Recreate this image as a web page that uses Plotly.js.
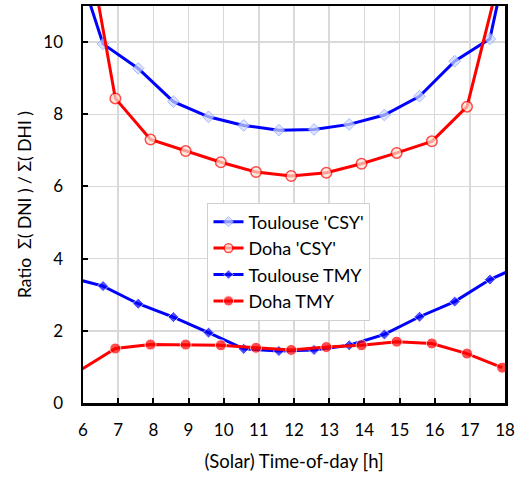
<!DOCTYPE html>
<html>
<head>
<meta charset="utf-8">
<script src="https://cdn.plot.ly/plotly-3.0.1.min.js"></script>
<style>html,body{margin:0;padding:0;background:#fff;}#chart{width:522px;height:477px;}</style>
</head>
<body>
<div id="chart"></div>
<script>
// Hours (solar time) of each series' points
var toulouseHours = [5.57, 6.57, 7.57, 8.57, 9.57, 10.57, 11.57, 12.57, 13.57, 14.57, 15.57, 16.57, 17.57, 18.57];
var dohaHours = [5.92, 6.92, 7.92, 8.92, 9.92, 10.92, 11.92, 12.92, 13.92, 14.92, 15.92, 16.92, 17.92];

// Ratio sum(DNI) / sum(DHI)
var toulouseCSY = [12.95, 9.95, 9.27, 8.35, 7.93, 7.69, 7.56, 7.58, 7.72, 7.98, 8.50, 9.47, 10.09, 14.6];
var dohaCSY = [13.9, 8.44, 7.30, 6.98, 6.67, 6.40, 6.29, 6.38, 6.63, 6.93, 7.25, 8.21, 12.1];
var toulouseTMY = [3.49, 3.24, 2.75, 2.38, 1.95, 1.50, 1.44, 1.47, 1.60, 1.90, 2.39, 2.81, 3.42, 3.86];
var dohaTMY = [0.91, 1.51, 1.62, 1.62, 1.60, 1.53, 1.47, 1.55, 1.60, 1.70, 1.65, 1.37, 0.98];

var seriesNames = ["Toulouse 'CSY'", "Doha 'CSY'", "Toulouse TMY", "Doha TMY"];
var xTicks = [6, 7, 8, 9, 10, 11, 12, 13, 14, 15, 16, 17, 18];
var yTicks = [0, 2, 4, 6, 8, 10];

var xRange = [6, 18], yRange = [0, 11];
function sizes(xs, ys, s) {
  return xs.map(function (x, i) {
    var y = ys[i];
    return (x < xRange[0] || x > xRange[1] || y < yRange[0] || y > yRange[1]) ? 0 : s;
  });
}

var FONT = 'Lato, "Open Sans", sans-serif';
var NB = '\u00a0';

var traces = [
  {x: toulouseHours, y: toulouseCSY, name: seriesNames[0], mode: 'lines+markers', cliponaxis: false,
   line: {color: '#0000ff', width: 3},
   marker: {symbol: 'diamond', size: sizes(toulouseHours, toulouseCSY, 9), color: '#cdd9fb', line: {color: '#7f9cff', width: 1}}},
  {x: dohaHours, y: dohaCSY, name: seriesNames[1], mode: 'lines+markers', cliponaxis: false,
   line: {color: '#ff0000', width: 3},
   marker: {symbol: 'circle', size: sizes(dohaHours, dohaCSY, 10.5), color: '#fde3d3', line: {color: '#ff0000', width: 1.5}}},
  {x: toulouseHours, y: toulouseTMY, name: seriesNames[2], mode: 'lines+markers', cliponaxis: false,
   line: {color: '#0000ff', width: 3},
   marker: {symbol: 'diamond', size: sizes(toulouseHours, toulouseTMY, 8.5), color: '#0000ff'}},
  {x: dohaHours, y: dohaTMY, name: seriesNames[3], mode: 'lines+markers', cliponaxis: false,
   line: {color: '#ff0000', width: 3},
   marker: {symbol: 'circle', size: sizes(dohaHours, dohaTMY, 11), color: '#ff0000'}}
];

var yTitle = 'Ratio' + NB + NB + 'Σ(' + NB + 'DNI' + NB + ')' + NB + '/' + NB + 'Σ(' + NB + 'DHI' + NB + ')';

var layout = {
  width: 522, height: 477,
  margin: {l: 83, r: 17, t: 6, b: 74},
  paper_bgcolor: '#ffffff', plot_bgcolor: '#ffffff',
  font: {family: FONT, size: 17, color: '#000'},
  showlegend: true,
  legend: {x: 0.295, y: 0.505, xanchor: 'left', yanchor: 'top',
           bgcolor: '#ffffff', bordercolor: '#d0d0d0', borderwidth: 1,
           font: {family: FONT, size: 18, color: '#000'}, tracegroupgap: 0},
  xaxis: {range: xRange, tickvals: xTicks, ticktext: xTicks.map(String),
          showgrid: true, gridcolor: '#d9d9d9', gridwidth: 1.5,
          showline: true, linecolor: '#000', linewidth: 2.5, mirror: true,
          ticks: 'inside', ticklen: 5, tickwidth: 2, tickcolor: '#000',
          ticklabelstandoff: 10, zeroline: false,
          tickfont: {family: FONT, size: 17, color: '#000'},
          title: {text: '(Solar) Time-of-day [h]', font: {family: FONT, size: 18.5, color: '#000'}, standoff: 16}},
  yaxis: {range: yRange, tickvals: yTicks, ticktext: yTicks.map(String),
          showgrid: true, gridcolor: '#d9d9d9', gridwidth: 1.5,
          showline: true, linecolor: '#000', linewidth: 2.5, mirror: true,
          ticks: 'inside', ticklen: 5, tickwidth: 2, tickcolor: '#000',
          ticklabelstandoff: 14, zeroline: false,
          tickfont: {family: FONT, size: 17, color: '#000'},
          title: {text: yTitle, font: {family: FONT, size: 17.5, color: '#000'}, standoff: 7}}
};

Plotly.newPlot('chart', traces, layout, {displayModeBar: false, staticPlot: true});
</script>
</body>
</html>
